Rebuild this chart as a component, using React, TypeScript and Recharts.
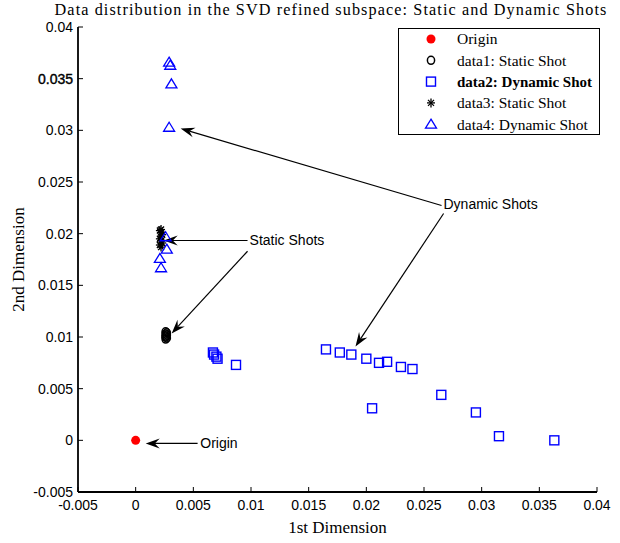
import React from 'react';
import {
  ScatterChart, Scatter, XAxis, YAxis, ReferenceLine, ReferenceDot, Legend, Customized,
} from 'recharts';

const xTicks = [-0.005, 0, 0.005, 0.01, 0.015, 0.02, 0.025, 0.03, 0.035, 0.04];
const yTicks = [-0.005, 0, 0.005, 0.01, 0.015, 0.02, 0.025, 0.03, 0.035, 0.04];

const originPts = [{ x: 0, y: 0 }];

const staticCircles = [
  { x: 0.0026, y: 0.0098 }, { x: 0.0027, y: 0.0099 }, { x: 0.0026, y: 0.0100 },
  { x: 0.0026, y: 0.0101 }, { x: 0.0027, y: 0.0102 }, { x: 0.0026, y: 0.0103 },
  { x: 0.0027, y: 0.0104 }, { x: 0.0026, y: 0.0105 },
];

const dynamicSquares = [
  { x: 0.0067, y: 0.0085 }, { x: 0.0068, y: 0.0083 }, { x: 0.0070, y: 0.0081 },
  { x: 0.0071, y: 0.0079 }, { x: 0.0087, y: 0.0073 },
  { x: 0.0165, y: 0.0088 }, { x: 0.0177, y: 0.0085 }, { x: 0.0187, y: 0.0083 },
  { x: 0.0200, y: 0.0079 }, { x: 0.0211, y: 0.0075 }, { x: 0.0218, y: 0.0076 },
  { x: 0.0230, y: 0.0071 }, { x: 0.0240, y: 0.0069 }, { x: 0.0205, y: 0.0031 },
  { x: 0.0265, y: 0.0044 }, { x: 0.0295, y: 0.0027 }, { x: 0.0315, y: 0.0004 },
  { x: 0.0363, y: 0.0000 },
];

const staticStars = [
  { x: 0.0022, y: 0.0187 }, { x: 0.0021, y: 0.0189 }, { x: 0.0023, y: 0.0191 },
  { x: 0.0022, y: 0.0193 }, { x: 0.0021, y: 0.0195 }, { x: 0.0022, y: 0.0197 },
  { x: 0.0023, y: 0.0199 }, { x: 0.0022, y: 0.0201 }, { x: 0.0021, y: 0.0203 },
  { x: 0.0022, y: 0.0204 },
];

const dynamicTriangles = [
  { x: 0.0029, y: 0.0366 }, { x: 0.0030, y: 0.0363 }, { x: 0.0031, y: 0.0345 },
  { x: 0.0029, y: 0.0303 }, { x: 0.0026, y: 0.0197 }, { x: 0.0027, y: 0.0185 },
  { x: 0.0021, y: 0.0176 }, { x: 0.0022, y: 0.0167 },
];

// annotation arrows: [tail, head] in data units
const arrows = [
  { from: { x: 0.00537, y: -0.0003 }, to: { x: 0.00087, y: -0.0003 } },
  { from: { x: 0.0097, y: 0.01934 }, to: { x: 0.00243, y: 0.01934 } },
  { from: { x: 0.0097, y: 0.0183 }, to: { x: 0.00312, y: 0.01035 } },
  { from: { x: 0.02652, y: 0.02273 }, to: { x: 0.0039, y: 0.03017 } },
  { from: { x: 0.0267, y: 0.02195 }, to: { x: 0.01906, y: 0.00909 } },
];
const notes = [
  { x: 0.0056, y: -0.0003, text: 'Origin' },
  { x: 0.00988, y: 0.01934, text: 'Static Shots' },
  { x: 0.02669, y: 0.02282, text: 'Dynamic Shots' },
];

const legendItems = [
  { name: 'Origin', kind: 'origin' },
  { name: 'data1: Static Shot', kind: 'circle' },
  { name: 'data2: Dynamic Shot', kind: 'square', bold: true },
  { name: 'data3: Static Shot', kind: 'star' },
  { name: 'data4: Dynamic Shot', kind: 'triangle' },
];

const SANS = 'Liberation Sans, Arial, sans-serif';
const SERIF = 'Liberation Serif, Times New Roman, serif';
const BLUE = '#0000ff';

const fmt = (v: number) => String(v);

function Marker({ kind, cx, cy }: { kind: string; cx: number; cy: number }) {
  if (kind === 'origin') return <circle cx={cx} cy={cy} r={4.5} fill="#ff0000" />;
  if (kind === 'circle') return <ellipse cx={cx} cy={cy} rx={3.6} ry={4} fill="none" stroke="#000" strokeWidth={1.5} />;
  if (kind === 'square') return <rect x={cx - 4.5} y={cy - 4.5} width={9} height={9} fill="none" stroke={BLUE} strokeWidth={1.4} />;
  if (kind === 'triangle') {
    return <polygon points={`${cx},${cy - 5} ${cx + 5.5},${cy + 4} ${cx - 5.5},${cy + 4}`} fill="none" stroke={BLUE} strokeWidth={1.3} />;
  }
  const d = 4, e = 3;
  return (
    <g stroke="#000" strokeWidth={1.3}>
      <line x1={cx} y1={cy - d - 0.5} x2={cx} y2={cy + d + 0.5} />
      <line x1={cx - d} y1={cy} x2={cx + d} y2={cy} />
      <line x1={cx - e} y1={cy - e} x2={cx + e} y2={cy + e} />
      <line x1={cx - e} y1={cy + e} x2={cx + e} y2={cy - e} />
    </g>
  );
}

const shapeOf = (kind: string) => (p: any) => <Marker kind={kind} cx={p.cx} cy={p.cy} />;

const XTick = ({ x, y, payload }: any) => (
  <g>
    <line x1={x} y1={y} x2={x} y2={y - 5} stroke="#000" />
    <text x={x} y={y + 18} textAnchor="middle" fontSize={14} fontFamily={SANS} fill="#000">{fmt(payload.value)}</text>
  </g>
);

const YTick = ({ x, y, payload }: any) => (
  <g>
    <line x1={x} y1={y} x2={x + 5} y2={y} stroke="#000" />
    <text x={x - 5} y={y + 5} textAnchor="end" fontSize={14} fontFamily={SANS} fill="#000"
      stroke={payload.value === 0.035 ? '#000' : 'none'} strokeWidth={0.4}>{fmt(payload.value)}</text>
  </g>
);

const XLabel = ({ viewBox }: any) => (
  <text x={viewBox.x + viewBox.width / 2} y={533} textAnchor="middle" fontSize={17} fontFamily={SERIF} fill="#000">1st Dimension</text>
);

const YLabel = ({ viewBox }: any) => {
  const cx = 18;
  const cy = viewBox.y + viewBox.height / 2;
  return (
    <text x={cx} y={cy} dy="0.35em" transform={`rotate(-90 ${cx} ${cy})`} textAnchor="middle" fontSize={17} fontFamily={SERIF} fill="#000">2nd Dimension</text>
  );
};

const arrowShape = (p: any) => {
  const { x1, y1, x2, y2 } = p;
  const dx = x2 - x1, dy = y2 - y1;
  const len = Math.hypot(dx, dy) || 1;
  const ux = dx / len, uy = dy / len;
  const nx = -uy, ny = ux;
  const L = 14, W = 5;
  const bx = x2 - ux * L, by = y2 - uy * L;
  const mx = x2 - ux * L * 0.65, my = y2 - uy * L * 0.65;
  return (
    <g>
      <line x1={x1} y1={y1} x2={mx} y2={my} stroke="#000" strokeWidth={1.2} />
      <polygon points={`${x2},${y2} ${bx + nx * W},${by + ny * W} ${mx},${my} ${bx - nx * W},${by - ny * W}`} fill="#000" />
    </g>
  );
};

const noteShape = (text: string) => (p: any) => (
  <text x={p.cx} y={p.cy} dy="0.35em" fontSize={14} fontFamily={SANS} fill="#000">{text}</text>
);

const LegendBox = () => (
  <svg width={202} height={107} style={{ display: 'block' }}>
    <rect x={0.5} y={0.5} width={201} height={106} fill="#fff" stroke="#000" strokeWidth={1} />
    {legendItems.map((it, i) => (
      <g key={it.name}>
        <Marker kind={it.kind} cx={33} cy={11 + i * 21.3} />
        <text x={59} y={11 + i * 21.3} dy="0.35em" fontSize={it.bold ? 15 : 15.5} fontFamily={SERIF}
          fontWeight={it.bold ? 'bold' : 'normal'} fill="#000">{it.name}</text>
      </g>
    ))}
  </svg>
);

const Title = () => (
  <text x={331} y={15} textAnchor="middle" fontSize={16.2} letterSpacing={1.1} fontFamily={SERIF} fill="#000">
    Data distribution in the SVD refined subspace: Static and Dynamic Shots
  </text>
);

export default function App() {
  return (
    <div style={{ position: 'absolute', left: 0, top: 0, width: 620, height: 543, background: '#fff' }}>
      <ScatterChart width={620} height={543} margin={{ top: 27, right: 23, bottom: 0, left: 0 }}>
        <XAxis
          type="number" dataKey="x" domain={[-0.005, 0.04]} ticks={xTicks} interval={0}
          height={51} tickSize={0} tickMargin={0} tick={<XTick />}
          axisLine={{ stroke: '#000', strokeWidth: 1.8 }} label={<XLabel />} allowDataOverflow
        />
        <YAxis
          type="number" dataKey="y" domain={[-0.005, 0.04]} ticks={yTicks} interval={0}
          width={78} tickSize={0} tickMargin={0} tick={<YTick />}
          axisLine={{ stroke: '#000', strokeWidth: 1.8 }} label={<YLabel />} allowDataOverflow
        />
        <Legend
          layout="vertical" align="center" verticalAlign="middle"
          wrapperStyle={{ position: 'absolute', left: 398, top: 28, width: 202, height: 107 }}
          content={() => <LegendBox />}
        />
        <Scatter name="Origin" data={originPts} shape={shapeOf('origin')} isAnimationActive={false} />
        <Scatter name="data1: Static Shot" data={staticCircles} shape={shapeOf('circle')} isAnimationActive={false} />
        <Scatter name="data2: Dynamic Shot" data={dynamicSquares} shape={shapeOf('square')} isAnimationActive={false} />
        <Scatter name="data3: Static Shot" data={staticStars} shape={shapeOf('star')} isAnimationActive={false} />
        <Scatter name="data4: Dynamic Shot" data={dynamicTriangles} shape={shapeOf('triangle')} isAnimationActive={false} />
        {arrows.map((a, i) => (
          <ReferenceLine key={`a${i}`} segment={[a.from, a.to]} shape={arrowShape} ifOverflow="visible" />
        ))}
        {notes.map((n) => (
          <ReferenceDot key={n.text} x={n.x} y={n.y} r={0} shape={noteShape(n.text)} ifOverflow="visible" />
        ))}
        <Customized component={Title} />
      </ScatterChart>
    </div>
  );
}
